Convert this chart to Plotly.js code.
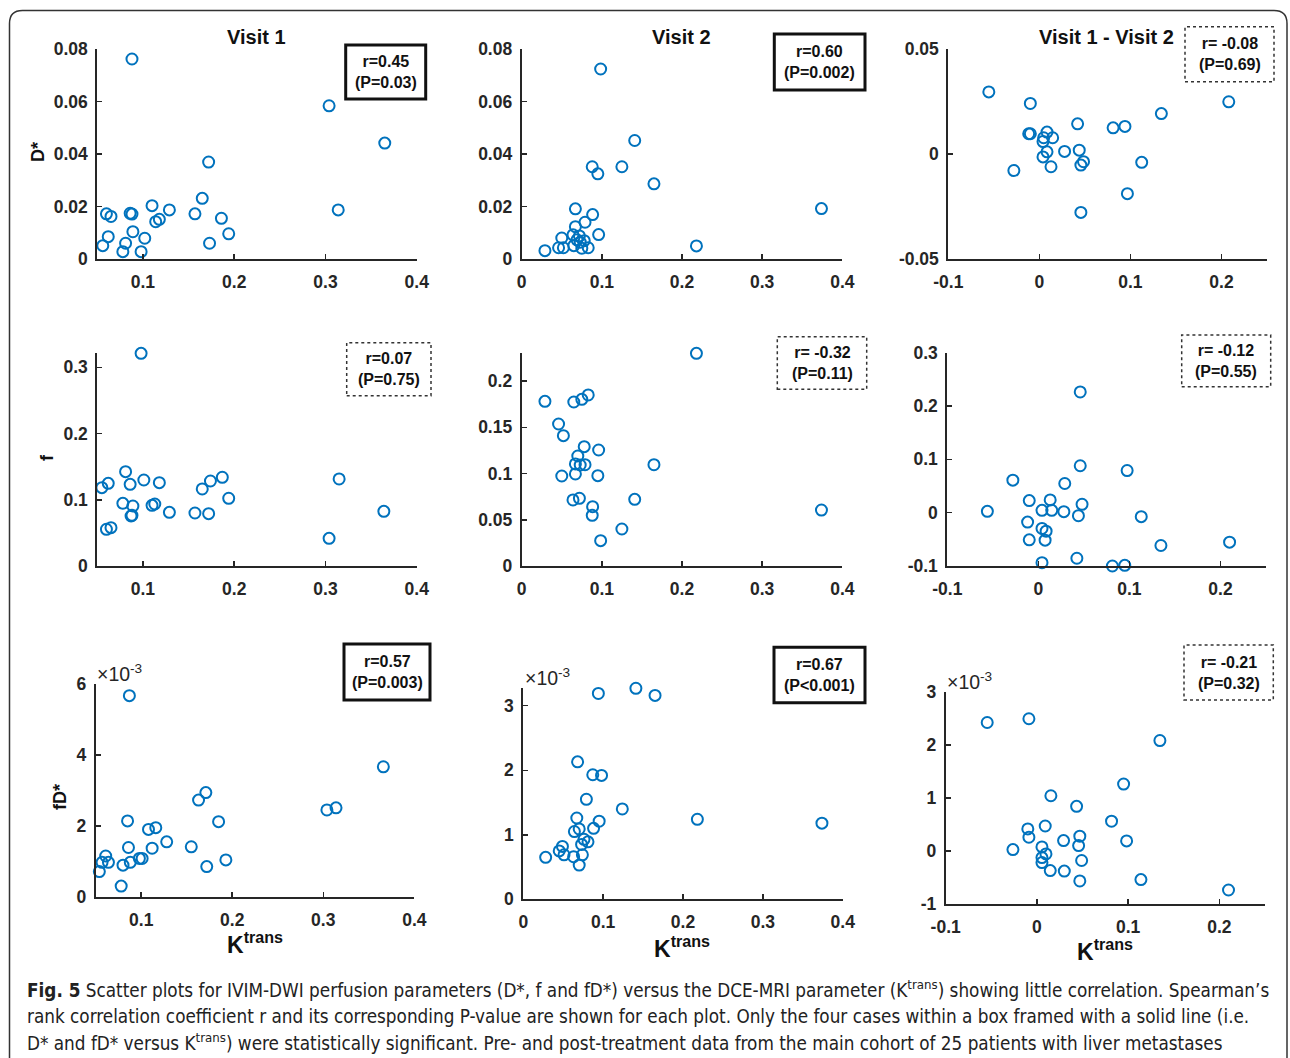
<!DOCTYPE html>
<html>
<head>
<meta charset="utf-8">
<script src="https://cdn.plot.ly/plotly-3.0.1.min.js"></script>
<style>html,body{margin:0;padding:0;background:#fff;}#chart{width:1290px;height:1058px;}</style>
</head>
<body>
<div id="chart"></div>
<script>
// ---------------- DATA ----------------
// Row 1: D* versus Ktrans
const v1_D_ktrans = [0.088,0.304,0.365,0.172,0.165,0.110,0.129,0.314,0.157,0.060,0.065,0.086,0.088,0.118,0.114,0.186,0.089,0.194,0.062,0.102,0.081,0.173,0.056,0.078,0.098];
const v1_D        = [0.0762,0.0584,0.0442,0.0370,0.0232,0.0204,0.0188,0.0188,0.0173,0.0173,0.0163,0.0175,0.0172,0.0152,0.0143,0.0156,0.0105,0.0097,0.0086,0.0080,0.0061,0.0061,0.0052,0.0029,0.0029];
const v2_D_ktrans = [0.0985,0.141,0.088,0.125,0.095,0.165,0.374,0.067,0.0885,0.079,0.067,0.096,0.050,0.064,0.072,0.069,0.078,0.073,0.065,0.075,0.083,0.046,0.052,0.029,0.218];
const v2_D        = [0.0724,0.0452,0.0352,0.0352,0.0325,0.0287,0.0193,0.0192,0.0170,0.0141,0.0124,0.0094,0.0081,0.0093,0.0089,0.0074,0.0071,0.0065,0.0052,0.0042,0.0044,0.0044,0.0044,0.0033,0.0051];
const dif_D_ktrans = [-0.0555,-0.0099,0.208,0.134,0.042,0.081,0.094,-0.0117,-0.0099,0.0084,0.0146,0.0047,0.004,0.0084,0.0277,0.0438,0.004,0.0128,-0.028,0.0485,0.0456,0.1124,0.0967,0.0456,0.029];
const dif_D        = [0.0296,0.0241,0.0249,0.0193,0.0144,0.0125,0.0132,0.0097,0.0097,0.0105,0.0078,0.0078,0.0060,0.0011,0.0013,0.0019,-0.0013,-0.0060,-0.0078,-0.0036,-0.0052,-0.0039,-0.0188,-0.0277,-0.0513];

// Row 2: f versus Ktrans
const v1_f_ktrans = [0.098,0.081,0.062,0.055,0.101,0.086,0.118,0.187,0.174,0.165,0.194,0.315,0.078,0.089,0.110,0.113,0.129,0.157,0.172,0.087,0.088,0.364,0.060,0.065,0.304];
const v1_f        = [0.321,0.1424,0.1248,0.1183,0.1298,0.1233,0.1258,0.1339,0.1283,0.1163,0.1022,0.1314,0.0946,0.0906,0.0916,0.0936,0.081,0.080,0.079,0.0755,0.0765,0.0825,0.0554,0.0579,0.0418];
const v2_f_ktrans = [0.218,0.083,0.075,0.065,0.029,0.046,0.052,0.078,0.096,0.070,0.067,0.073,0.079,0.165,0.067,0.050,0.095,0.064,0.072,0.141,0.0885,0.088,0.374,0.125,0.0985];
const v2_f        = [0.2299,0.1849,0.1802,0.1773,0.178,0.1535,0.1409,0.129,0.1254,0.1189,0.1103,0.1092,0.1095,0.1095,0.0995,0.0973,0.0977,0.0714,0.0732,0.0721,0.0641,0.0548,0.0605,0.040,0.0274];
const dif_f_ktrans = [0.046,0.046,0.0975,-0.028,0.029,-0.010,0.013,0.048,-0.056,0.004,0.0147,0.028,0.044,0.113,-0.0118,0.004,0.0085,-0.010,0.0074,0.1346,0.210,0.004,0.0423,0.0813,0.0949];
const dif_f        = [0.2264,0.088,0.079,0.061,0.0547,0.0226,0.0239,0.0157,0.0025,0.0044,0.0044,0.0019,-0.0057,-0.0075,-0.0176,-0.0296,-0.0346,-0.0509,-0.0516,-0.0616,-0.0553,-0.0937,-0.0855,-0.100,-0.0987];

// Row 3: fD* (x10^-3) versus Ktrans
const v1_fD_ktrans = [0.087,0.366,0.171,0.163,0.314,0.304,0.085,0.185,0.116,0.108,0.128,0.155,0.086,0.112,0.061,0.098,0.101,0.193,0.057,0.064,0.088,0.080,0.172,0.054,0.078];
const v1_fD        = [5.68,3.67,2.94,2.73,2.51,2.45,2.14,2.12,1.95,1.90,1.55,1.41,1.39,1.37,1.15,1.08,1.08,1.04,0.97,0.97,0.97,0.89,0.85,0.71,0.30];
const v2_fD_ktrans = [0.141,0.094,0.165,0.068,0.087,0.098,0.079,0.124,0.218,0.374,0.067,0.095,0.088,0.070,0.064,0.076,0.081,0.073,0.049,0.045,0.051,0.063,0.074,0.028,0.070];
const v2_fD        = [3.27,3.19,3.16,2.13,1.93,1.92,1.55,1.40,1.24,1.18,1.26,1.21,1.10,1.09,1.05,0.93,0.89,0.85,0.82,0.75,0.69,0.66,0.69,0.65,0.53];
const dif_fD_ktrans = [-0.0545,-0.0088,0.1348,0.095,0.0153,0.0435,0.0818,0.0091,-0.010,-0.0088,0.047,0.0292,0.0983,0.0457,-0.0263,0.0055,0.0099,0.0055,0.0055,0.049,0.0146,0.030,0.047,0.114,0.210];
const dif_fD        = [2.42,2.49,2.08,1.26,1.04,0.84,0.56,0.47,0.415,0.258,0.277,0.195,0.189,0.10,0.025,0.075,-0.057,-0.126,-0.22,-0.18,-0.37,-0.38,-0.566,-0.54,-0.736];

const columnTitles = ["Visit 1", "Visit 2", "Visit 1 - Visit 2"];
const rowLabels = ["D*", "f", "fD*"];
const xLabel = "K<sup>trans</sup>";
const statR = ["r=0.45","r=0.60","r= -0.08","r=0.07","r= -0.32","r= -0.12","r=0.57","r=0.67","r= -0.21"];
const statP = ["(P=0.03)","(P=0.002)","(P=0.69)","(P=0.75)","(P=0.11)","(P=0.55)","(P=0.003)","(P&lt;0.001)","(P=0.32)"];
const significant = [true,true,false,false,false,false,true,true,false];

const xTicksA = [0.1,0.2,0.3,0.4], xTextA = ["0.1","0.2","0.3","0.4"];
const xTicksB = [0,0.1,0.2,0.3,0.4], xTextB = ["0","0.1","0.2","0.3","0.4"];
const xTicksC = [-0.1,0,0.1,0.2], xTextC = ["-0.1","0","0.1","0.2"];
const yTicks = [
  [[0,0.02,0.04,0.06,0.08],["0","0.02","0.04","0.06","0.08"]],
  [[0,0.02,0.04,0.06,0.08],["0","0.02","0.04","0.06","0.08"]],
  [[-0.05,0,0.05],["-0.05","0","0.05"]],
  [[0,0.1,0.2,0.3],["0","0.1","0.2","0.3"]],
  [[0,0.05,0.1,0.15,0.2],["0","0.05","0.1","0.15","0.2"]],
  [[-0.1,0,0.1,0.2,0.3],["-0.1","0","0.1","0.2","0.3"]],
  [[0,2,4,6],["0","2","4","6"]],
  [[0,1,2,3],["0","1","2","3"]],
  [[-1,0,1,2,3],["-1","0","1","2","3"]]
];

const captionLines = [
  "<b>Fig. 5</b> Scatter plots for IVIM-DWI perfusion parameters (D*, f and fD*) versus the DCE-MRI parameter (K<sup>trans</sup>) showing little correlation. Spearman’s",
  "rank correlation coefficient r and its corresponding P-value are shown for each plot. Only the four cases within a box framed with a solid line (i.e.",
  "D* and fD* versus K<sup>trans</sup>) were statistically significant. Pre- and post-treatment data from the main cohort of 25 patients with liver metastases"
];

// ---------------- LAYOUT ----------------
const W = 1290, H = 1058;
const px = v => v / W;
const py = v => 1 - v / H;
const INK = '#262626';
const FONT = 'Liberation Sans, Arial, sans-serif';
const BLUE = '#0072BD';

const panels = [
  {x: v1_D_ktrans, y: v1_D, dom: [97.3,416.7,49,259.3], xr:[0.05,0.4], yr:[0,0.08], xt:[xTicksA,xTextA]},
  {x: v2_D_ktrans, y: v2_D, dom: [521.7,842.3,49,259.3], xr:[0,0.4], yr:[0,0.08], xt:[xTicksB,xTextB]},
  {x: dif_D_ktrans, y: dif_D, dom: [948.3,1267,49,259.3], xr:[-0.1,0.25], yr:[-0.05,0.05], xt:[xTicksC,xTextC]},
  {x: v1_f_ktrans, y: v1_f, dom: [97.3,416.7,352.7,566], xr:[0.05,0.4], yr:[0,0.322], xt:[xTicksA,xTextA]},
  {x: v2_f_ktrans, y: v2_f, dom: [521.7,842.3,352.7,566], xr:[0,0.4], yr:[0,0.2306], xt:[xTicksB,xTextB]},
  {x: dif_f_ktrans, y: dif_f, dom: [947.3,1266,352.7,566], xr:[-0.1,0.25], yr:[-0.1,0.3], xt:[xTicksC,xTextC]},
  {x: v1_fD_ktrans, y: v1_fD, dom: [95.7,414.3,684.3,896.7], xr:[0.05,0.4], yr:[0,6], xt:[xTicksA,xTextA]},
  {x: v2_fD_ktrans, y: v2_fD, dom: [523.3,842.7,688.3,899.3], xr:[0,0.4], yr:[0,3.27], xt:[xTicksB,xTextB]},
  {x: dif_fD_ktrans, y: dif_fD, dom: [945.7,1265,691.7,904], xr:[-0.1,0.25], yr:[-1,3], xt:[xTicksC,xTextC]}
];

const boxes = [
  [345.7,45,425.7,99],[774.3,34,865,90],[1185,26.7,1274,81.7],
  [346.7,342.7,431,395.7],[777.3,336.7,866.7,389.3],[1181.7,335,1270.7,386.7],
  [344,644,430,700],[774,647.3,865,702.7],[1184,645,1273.3,700]
];

const data = [];
const layout = {
  width: W, height: H, autosize: false,
  margin: {l:0, r:0, t:0, b:0},
  paper_bgcolor: '#fff', plot_bgcolor: 'rgba(0,0,0,0)',
  showlegend: false,
  font: {family: FONT, color: INK},
  annotations: [], shapes: []
};

const tickFont = {family: FONT, size: 17.5, color: INK, weight: 'bold'};

panels.forEach((p, i) => {
  const n = i + 1;
  const xa = 'xaxis' + (n === 1 ? '' : n), ya = 'yaxis' + (n === 1 ? '' : n);
  data.push({
    type: 'scatter', mode: 'markers',
    x: p.x, y: p.y,
    xaxis: 'x' + (n === 1 ? '' : n), yaxis: 'y' + (n === 1 ? '' : n),
    cliponaxis: false,
    marker: {symbol: 'circle-open', size: 11, color: BLUE, line: {color: BLUE, width: 2}},
    hoverinfo: 'skip'
  });
  const common = {
    showline: true, linecolor: INK, linewidth: 2, mirror: false,
    ticks: 'inside', ticklen: 5, tickwidth: 1.5, tickcolor: INK,
    showgrid: false, zeroline: false, tickfont: tickFont, fixedrange: true
  };
  layout[xa] = Object.assign({}, common, {
    domain: [px(p.dom[0]), px(p.dom[1])], range: p.xr,
    tickvals: p.xt[0], ticktext: p.xt[1],
    anchor: 'y' + (n === 1 ? '' : n), ticklabelstandoff: 6
  });
  layout[ya] = Object.assign({}, common, {
    domain: [py(p.dom[3]), py(p.dom[2])], range: p.yr,
    tickvals: yTicks[i][0], ticktext: yTicks[i][1],
    anchor: 'x' + (n === 1 ? '' : n), ticklabelstandoff: 4
  });

  // statistics box
  const b = boxes[i];
  layout.shapes.push({
    type: 'rect', xref: 'paper', yref: 'paper',
    x0: px(b[0]), x1: px(b[2]), y0: py(b[3]), y1: py(b[1]),
    line: significant[i] ? {color: '#111', width: 3} : {color: '#333', width: 1.5, dash: 'dot'},
    fillcolor: 'rgba(0,0,0,0)'
  });
  layout.annotations.push({
    xref: 'paper', yref: 'paper', x: px((b[0]+b[2])/2), y: py((b[1]+b[3])/2),
    xanchor: 'center', yanchor: 'middle', showarrow: false, align: 'center',
    text: statR[i] + '<br>' + statP[i],
    font: {family: FONT, size: 16, color: '#111', weight: 'bold'}
  });
});

// column titles
[[256,37],[681,37],[1106,37]].forEach((c, j) => {
  layout.annotations.push({xref:'paper', yref:'paper', x: px(c[0]), y: py(c[1]),
    xanchor:'center', yanchor:'middle', showarrow:false, text: columnTitles[j],
    font:{family: FONT, size: 20, color: '#111', weight:'bold'}});
});
// row labels (y axis titles)
[[38,152],[47,458],[60,797]].forEach((c, j) => {
  layout.annotations.push({xref:'paper', yref:'paper', x: px(c[0]), y: py(c[1]),
    xanchor:'center', yanchor:'middle', showarrow:false, textangle:-90, text: rowLabels[j],
    font:{family: FONT, size: 18, color: '#111', weight:'bold'}});
});
// x axis titles
[[255,943],[682,947],[1105,950]].forEach(c => {
  layout.annotations.push({xref:'paper', yref:'paper', x: px(c[0]), y: py(c[1]),
    xanchor:'center', yanchor:'middle', showarrow:false, text: xLabel,
    font:{family: FONT, size: 23, color: '#111', weight:'bold'}});
});
// exponent labels
[[95,673],[523,677],[945,681]].forEach(c => {
  layout.annotations.push({xref:'paper', yref:'paper', x: px(c[0]), y: py(c[1]),
    xanchor:'left', yanchor:'middle', showarrow:false, text: '×10<sup>-3</sup>',
    font:{family: FONT, size: 19.5, color: INK}});
});
// caption
[989,1016,1042].forEach((yy, j) => {
  layout.annotations.push({xref:'paper', yref:'paper', x: px(25), y: py(yy),
    xanchor:'left', yanchor:'middle', showarrow:false, align:'left', text: captionLines[j],
    font:{family: 'Liberation Sans Narrow, DejaVu Sans Condensed, sans-serif', size: 18.75, color: '#222'}});
});

// rounded outer frame (open at the bottom, continues past the page)
const fx0 = px(9.5), fx1 = px(1287), fyT = py(10.5), fyB = py(1100);
const rx = px(13), ry = 13 / H;
layout.shapes.push({
  type: 'path', xref: 'paper', yref: 'paper',
  path: `M ${fx0},${fyB} L ${fx0},${fyT - ry} Q ${fx0},${fyT} ${fx0 + rx},${fyT} L ${fx1 - rx},${fyT} Q ${fx1},${fyT} ${fx1},${fyT - ry} L ${fx1},${fyB}`,
  line: {color: '#333', width: 1.5}
});

Plotly.newPlot('chart', data, layout, {displayModeBar: false, staticPlot: true});
</script>
</body>
</html>
